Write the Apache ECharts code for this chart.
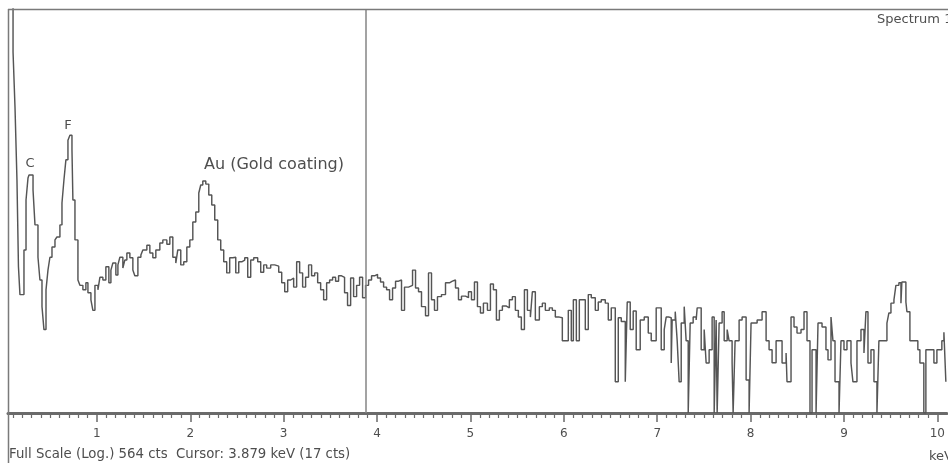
<!DOCTYPE html>
<html>
<head>
<meta charset="utf-8">
<script src="https://cdn.jsdelivr.net/npm/echarts@6/dist/echarts.min.js"></script>
<style>
html,body{margin:0;padding:0;background:#fff;}
#c{width:948px;height:463px;}
</style>
</head>
<body>
<div id="c"></div>
<script>
// Energy (keV) of each step start
const energy = [
0.048,0.102,0.123,0.144,0.160,0.176,0.219,0.241,0.262,0.273,
0.316,0.337,0.369,0.390,0.412,0.433,0.455,0.476,0.497,0.519,
0.551,0.572,0.604,0.626,0.647,0.668,0.690,0.711,0.733,0.743,
0.765,0.797,0.818,0.850,0.882,0.904,0.936,0.957,0.979,1.011,
1.032,1.064,1.096,1.128,1.150,1.171,1.203,1.225,1.246,1.278,
1.299,1.321,1.353,1.385,1.406,1.439,1.471,1.492,1.535,1.567,
1.599,1.631,1.674,1.706,1.749,1.781,1.813,1.845,1.866,1.898,
1.930,1.963,1.995,2.027,2.059,2.091,2.112,2.134,2.166,2.198,
2.230,2.262,2.294,2.326,2.358,2.390,2.422,2.455,2.487,2.519,
2.551,2.583,2.615,2.647,2.679,2.722,2.754,2.786,2.818,2.861,
2.904,2.947,2.979,3.011,3.043,3.075,3.107,3.139,3.171,3.203,
3.235,3.267,3.299,3.332,3.364,3.396,3.428,3.460,3.492,3.524,
3.556,3.588,3.620,3.652,3.684,3.717,3.749,3.781,3.813,3.845,
3.877,3.909,3.941,3.973,4.005,4.037,4.070,4.102,4.134,4.166,
4.198,4.230,4.262,4.294,4.337,4.380,4.412,4.444,4.476,4.519,
4.551,4.583,4.615,4.647,4.690,4.733,4.775,4.807,4.840,4.872,
4.904,4.947,4.979,5.011,5.043,5.075,5.107,5.139,5.182,5.214,
5.246,5.278,5.310,5.342,5.385,5.417,5.449,5.481,5.513,5.545,
5.578,5.610,5.642,5.663,5.695,5.738,5.770,5.802,5.845,5.877,
5.909,5.952,5.984,6.048,6.080,6.102,6.134,6.166,6.230,6.262,
6.294,6.337,6.369,6.401,6.444,6.476,6.508,6.551,6.583,6.615,
6.658,6.679,6.711,6.743,6.775,6.818,6.861,6.904,6.936,6.989,
7.043,7.075,7.096,7.128,7.150,7.160,7.193,7.214,7.235,7.257,
7.289,7.310,7.332,7.353,7.385,7.417,7.428,7.471,7.503,7.524,
7.556,7.588,7.610,7.631,7.642,7.663,7.695,7.717,7.749,7.770,
7.802,7.813,7.834,7.877,7.909,7.952,7.984,8.005,8.070,8.123,
8.166,8.198,8.230,8.273,8.337,8.380,8.390,8.433,8.465,8.497,
8.540,8.572,8.604,8.636,8.658,8.701,8.722,8.765,8.807,8.829,
8.861,8.882,8.904,8.947,8.968,9.000,9.032,9.075,9.096,9.139,
9.182,9.214,9.235,9.257,9.289,9.321,9.353,9.374,9.460,9.481,
9.503,9.535,9.556,9.588,9.610,9.620,9.663,9.674,9.706,9.791,
9.813,9.855,9.877,9.963,9.995,10.048,10.070,10.091
];
// Counts (log display)
const counts = [
1500,287,121,38.6,9.9,6.4,12.9,28.2,39.8,41.7,
33.0,19.1,11.5,8.05,5.3,3.7,6.9,9.4,11.5,13.5,
15.1,15.8,19.1,26.9,38.6,53,72,78,62,28.2,
15.1,8.05,7.4,6.9,7.7,6.6,5.9,5.0,7.4,6.9,
8.4,8.05,9.9,7.7,9.4,10.5,8.7,10.2,11.5,9.7,
11.0,12.3,11.4,9.4,8.6,11.5,11.9,12.9,13.9,12.3,
11.4,12.9,14.4,15.1,14.1,15.8,11.5,10.5,12.9,10.2,
10.7,13.5,15.1,20.0,23.4,31.5,35.7,38.0,36.2,30.5,
26.1,20.6,15.1,12.9,10.7,9.0,11.4,11.5,9.0,10.7,
11.0,11.4,8.4,11.0,11.4,10.7,9.1,10.2,9.7,10.2,
10.0,9.1,7.7,6.7,8.05,8.3,7.2,10.7,9.0,7.2,
8.4,10.2,8.6,9.0,7.7,6.9,5.9,7.7,8.05,8.4,
7.9,8.6,8.4,6.6,5.4,8.3,6.2,7.4,8.4,6.1,
7.4,8.05,8.6,8.8,8.3,7.8,7.2,6.9,5.9,7.1,
7.9,8.05,5.0,7.2,7.4,9.4,7.1,6.7,5.3,4.6,
9.0,5.9,5.0,6.2,6.4,7.7,7.9,8.05,7.1,5.9,
6.25,6.1,6.7,5.9,7.8,5.3,4.8,5.6,5.0,7.55,
6.9,4.3,5.0,5.35,5.2,5.9,6.2,5.0,4.5,3.7,
6.9,5.0,4.5,6.7,4.3,5.3,5.6,5.0,5.2,5.0,
4.5,4.45,3.1,5.0,3.1,5.9,3.1,5.9,3.7,6.4,
6.1,5.0,5.7,5.9,5.6,4.3,5.2,1.63,4.45,4.2,
1.63,5.7,3.7,4.95,2.7,4.3,4.5,3.5,3.1,5.2,
2.7,3.7,4.5,4.45,2.19,4.3,4.9,3.1,1.63,4.1,
5.3,3.1,1,4.1,4.5,4.3,5.2,2.7,3.7,2.19,
2.7,4.5,1,4.3,1,4.1,4.9,3.1,3.7,3.1,
2.2,1,3.1,4.3,4.5,1.68,1,4.1,4.3,4.9,
3.1,2.7,2.2,3.1,2.19,2.56,1.63,4.5,3.85,3.5,
3.7,4.9,3.1,1,2.7,1,4.1,3.85,2.7,2.3,
4.5,3.1,1.63,1,3.1,2.7,3.1,2.19,1.63,3.1,
3.7,2.56,4.9,2.19,2.7,1.63,1,3.1,4.1,4.8,
5.6,5.9,7.4,7.7,5.6,7.8,5.7,4.9,3.1,2.7,
2.19,1,2.7,2.19,2.7,3.1,3.55,1.63
];
const tickLabels = [1,2,3,4,5,6,7,8,9,10];
const fullScale = 564;
const cursorKeV = 3.879;
const peakLabels = ['C','F','Au (Gold coating)'];

const X_MIN = 0.048, X_MAX = 10.1;
const minorTicks = [];
for (let i = 1; i <= 101; i++) { const v = +(i/10).toFixed(1); if (v % 1 !== 0 && v < X_MAX) minorTicks.push(v); }

const data = energy.map((e, i) => [e, counts[i]]);
const axisColor = '#6a6a6a';
const textColor = '#4e4e4e';
const FONT = '"DejaVu Sans", Arial, sans-serif';

const chart = echarts.init(document.getElementById('c'));
chart.setOption({
  animation: false,
  backgroundColor: '#ffffff',
  grid: { left: 8, right: 0, top: 9, bottom: 50 },
  xAxis: [
    {
      type: 'value', min: X_MIN, max: X_MAX,
      axisLine: { lineStyle: { color: axisColor, width: 3 } },
      axisTick: { customValues: tickLabels, length: 9, lineStyle: { color: axisColor, width: 1.5 } },
      axisLabel: { customValues: tickLabels, margin: 15, color: textColor, fontSize: 12, fontFamily: FONT },
      splitLine: { show: false }
    },
    {
      type: 'value', min: X_MIN, max: X_MAX, position: 'bottom',
      axisLine: { show: false },
      axisTick: { customValues: minorTicks, length: 5, lineStyle: { color: axisColor, width: 1.2 } },
      axisLabel: { show: false },
      splitLine: { show: false }
    }
  ],
  yAxis: { type: 'log', min: 1, max: fullScale, show: false },
  series: [{
    type: 'line', step: 'end', data: data, xAxisIndex: 0,
    symbol: 'none', showSymbol: false, clip: true,
    lineStyle: { color: '#555555', width: 1.45 },
    markLine: {
      silent: true, symbol: ['none', 'none'], animation: false,
      label: { show: false },
      lineStyle: { color: '#858585', width: 1.5, type: 'solid' },
      data: [{ xAxis: cursorKeV }]
    }
  }],
  graphic: [
    { type: 'line', shape: { x1: 8, y1: 9.5, x2: 948, y2: 9.5 }, style: { stroke: '#7a7a7a', lineWidth: 1.5 }, z: 10 },
    { type: 'line', shape: { x1: 8.5, y1: 9, x2: 8.5, y2: 463 }, style: { stroke: '#7a7a7a', lineWidth: 1.5 }, z: 10 },
    { type: 'text', x: 30, y: 164, style: { text: peakLabels[0], font: '13px ' + FONT, fill: textColor, textAlign: 'center', textVerticalAlign: 'middle' } },
    { type: 'text', x: 68, y: 126, style: { text: peakLabels[1], font: '13px ' + FONT, fill: textColor, textAlign: 'center', textVerticalAlign: 'middle' } },
    { type: 'text', x: 204, y: 165, style: { text: peakLabels[2], font: '16px ' + FONT, fill: textColor, textAlign: 'left', textVerticalAlign: 'middle' } },
    { type: 'text', x: 877, y: 20, style: { text: 'Spectrum 1', font: '13px ' + FONT, fill: textColor, textAlign: 'left', textVerticalAlign: 'middle' } },
    { type: 'text', x: 9, y: 455, style: { text: 'Full Scale (Log.) ' + fullScale + ' cts  Cursor: ' + cursorKeV + ' keV (17 cts)', font: '13.3px ' + FONT, fill: textColor, textAlign: 'left', textVerticalAlign: 'middle' } },
    { type: 'text', x: 929, y: 457, style: { text: 'keV', font: '13px ' + FONT, fill: textColor, textAlign: 'left', textVerticalAlign: 'middle' } }
  ]
});
</script>
</body>
</html>
